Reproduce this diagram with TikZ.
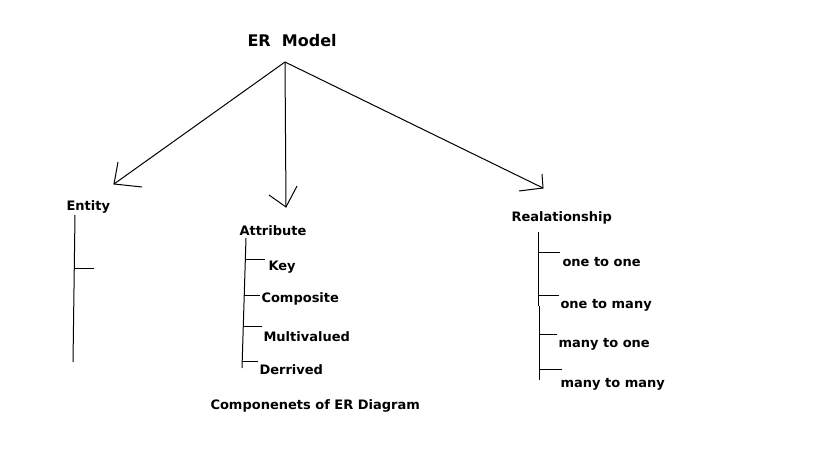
\documentclass[tikz,border=0pt]{standalone}
\usepackage{fontspec}
\setmainfont{DejaVu Sans}
\begin{document}
\begin{tikzpicture}[x=1pt,y=-1pt,line width=1pt,
  lbl/.style={anchor=base west, inner sep=0pt, font=\bfseries\fontsize{13}{15}\selectfont},
  title/.style={anchor=base west, inner sep=0pt, font=\bfseries\fontsize{16}{18}\selectfont}]

\useasboundingbox (0,0) rectangle (819,460);

\node[title] (model) at (247,47) {ER~~Model};

% arrows from the top
\coordinate (apex) at (285,62);
\coordinate (tipE) at (114,184);
\coordinate (tipA) at (286,207);
\coordinate (tipR) at (543,188);
\draw (apex) -- (tipE);
\draw (118,162) -- (tipE) -- (142,187);
\draw (apex) -- (tipA);
\draw (269,195) -- (tipA) -- (297,186);
\draw (apex) -- (tipR);
\draw (542,174) -- (tipR) -- (519,191);

% entity
\node[lbl] (entity) at (66,210) {Entity};
\draw (75,215) -- (73,362);
\draw (75,268) -- (94,268);

% attribute
\node[lbl] (attr) at (239,235) {Attribute};
\draw (246,238) -- (242,368);
\node[lbl] (key) at (268,270) {Key};
\draw (245,259) -- (265,259);
\node[lbl] (comp) at (261,302) {Composite};
\draw (244,295) -- (260,295);
\node[lbl] (multi) at (263,341) {Multivalued};
\draw (243,326) -- (262,326);
\node[lbl] (derr) at (259,374) {Derrived};
\draw (242,361) -- (258,361);

\node[lbl] (caption) at (210,409) {Componenets of ER Diagram};

% relationship
\node[lbl] (rel) at (511,221) {Realationship};
\draw (538,232) -- (538,306);
\draw (539,306) -- (539,380);
\node[lbl] (oneone) at (562,266) {one to one};
\draw (538,252) -- (560,252);
\node[lbl] (onemany) at (560,308) {one to many};
\draw (538,295) -- (559,295);
\node[lbl] (manyone) at (558,347) {many to one};
\draw (539,334) -- (557,334);
\node[lbl] (manymany) at (560,387) {many to many};
\draw (539,369) -- (562,369);

\end{tikzpicture}
\end{document}
